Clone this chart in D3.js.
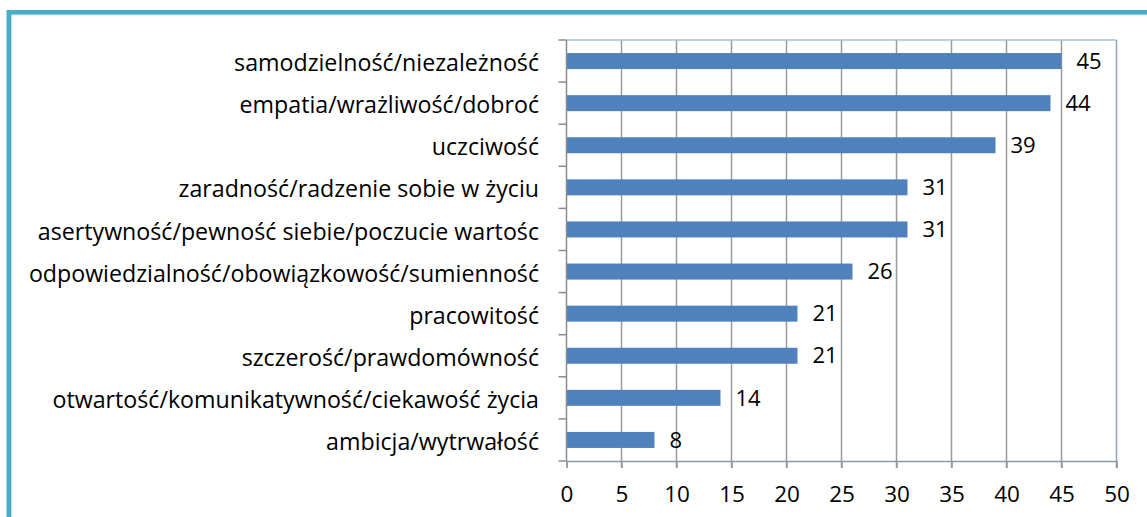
<!DOCTYPE html>
<html>
<head>
<meta charset="utf-8">
<script src="https://cdn.jsdelivr.net/npm/d3@7"></script>
<style>
  body { margin: 0; background: #fff; }
  svg text { font-family: "Open Sans", sans-serif; fill: #000; }
</style>
</head>
<body>
<svg id="chart" width="1147" height="517"></svg>
<script>
// categories, top to bottom
const categories = [
  'samodzielność/niezależność',
  'empatia/wrażliwość/dobroć',
  'uczciwość',
  'zaradność/radzenie sobie w życiu',
  'asertywność/pewność siebie/poczucie wartośc',
  'odpowiedzialność/obowiązkowość/sumienność',
  'pracowitość',
  'szczerość/prawdomówność',
  'otwartość/komunikatywność/ciekawość życia',
  'ambicja/wytrwałość'
];
const values = [45, 44, 39, 31, 31, 26, 21, 21, 14, 8];
const xTicks = [0, 5, 10, 15, 20, 25, 30, 35, 40, 45, 50];

const svg = d3.select('#chart');
const plotLeft = 566.5, plotRight = 1116.5, plotTop = 40, plotBottom = 461;

// outer frame
svg.append('rect')
  .attr('x', 9).attr('y', 12.5)
  .attr('width', 1160).attr('height', 530)
  .attr('fill', 'none')
  .attr('stroke', '#4bacc6')
  .attr('stroke-width', 5);
svg.append('rect')
  .attr('x', 12).attr('y', 15)
  .attr('width', 1160).attr('height', 530)
  .attr('fill', 'none')
  .attr('stroke', '#d6eef4')
  .attr('stroke-width', 1);

const x = d3.scaleLinear().domain([0, 50]).range([plotLeft, plotRight]);
const y = d3.scaleBand().domain(categories).range([plotTop, plotBottom]).paddingInner(0.62).paddingOuter(0.31);

// gridlines
svg.append('g')
  .selectAll('line')
  .data(xTicks.slice(1, -1))
  .join('line')
  .attr('x1', d => x(d)).attr('x2', d => x(d))
  .attr('y1', plotTop).attr('y2', plotBottom + 7)
  .attr('stroke', '#9a9a9a')
  .attr('stroke-width', 1.5);

// plot frame top and right
svg.append('line')
  .attr('x1', plotLeft).attr('x2', plotRight)
  .attr('y1', plotTop).attr('y2', plotTop)
  .attr('stroke', '#a9c0de').attr('stroke-width', 1.5);
svg.append('line')
  .attr('x1', plotRight).attr('x2', plotRight)
  .attr('y1', plotTop).attr('y2', plotBottom + 7)
  .attr('stroke', '#8ea2bc').attr('stroke-width', 1.5);

// bars
svg.append('g')
  .selectAll('rect')
  .data(values)
  .join('rect')
  .attr('x', x(0))
  .attr('y', (d, i) => y(categories[i]))
  .attr('width', d => x(d) - x(0))
  .attr('height', y.bandwidth())
  .attr('fill', '#4f81bd');

// value labels
svg.append('g')
  .selectAll('text')
  .data(values)
  .join('text')
  .attr('x', d => x(d) + 15)
  .attr('y', (d, i) => y(categories[i]) + y.bandwidth() / 2)
  .attr('dy', '0.35em')
  .style('font-size', '22px')
  .text(d => d);

// x axis
const xAxis = svg.append('g')
  .attr('transform', `translate(0,${plotBottom})`)
  .call(d3.axisBottom(x).tickValues(xTicks).tickSize(7).tickPadding(18));
xAxis.select('.domain').attr('stroke', '#8a9bb0').attr('stroke-width', 1.5);
xAxis.selectAll('.tick line').attr('stroke', '#9a9a9a').attr('stroke-width', 1.5);
xAxis.selectAll('.tick text')
  .style('font-size', '22.5px')
  .style('font-family', '"Open Sans", sans-serif')
  .attr('fill', '#000');

// y axis, ticks between categories
const yEdges = d3.range(categories.length + 1).map(i => plotTop + i * (plotBottom - plotTop) / categories.length);
svg.append('line')
  .attr('x1', plotLeft).attr('x2', plotLeft)
  .attr('y1', plotTop).attr('y2', plotBottom)
  .attr('stroke', '#8c8c8c').attr('stroke-width', 1.5);
svg.append('g')
  .selectAll('line')
  .data(yEdges)
  .join('line')
  .attr('x1', plotLeft - 8).attr('x2', plotLeft)
  .attr('y1', d => d).attr('y2', d => d)
  .attr('stroke', '#8c8c8c').attr('stroke-width', 1.5);

// category labels
svg.append('g')
  .selectAll('text')
  .data(categories)
  .join('text')
  .attr('x', 539)
  .attr('y', d => y(d) + y.bandwidth() / 2 + 2)
  .attr('dy', '0.35em')
  .attr('text-anchor', 'end')
  .style('font-size', '23.2px')
  .text(d => d);
</script>
</body>
</html>
